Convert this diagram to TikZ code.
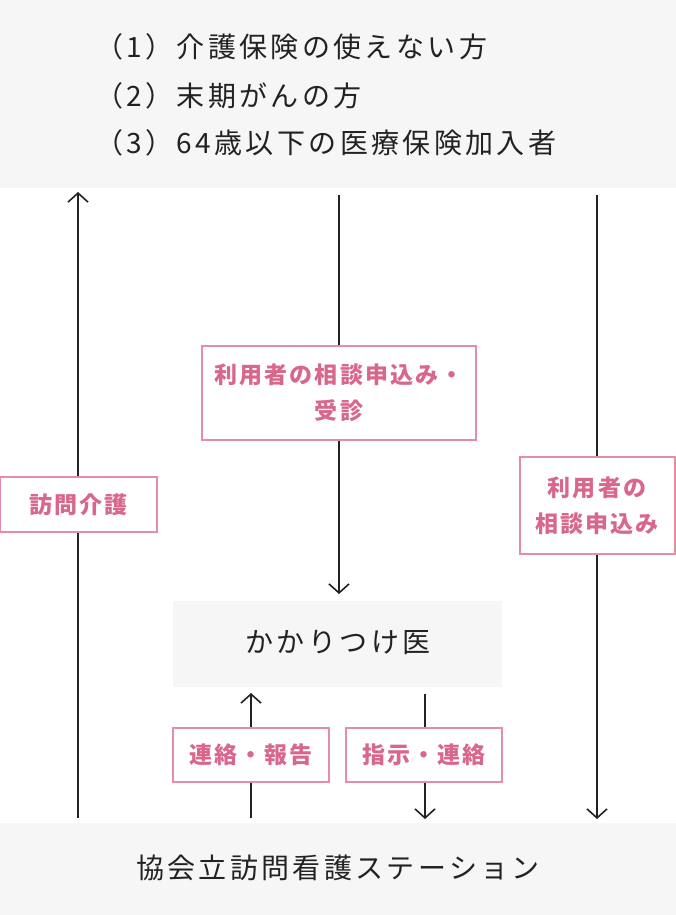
\documentclass[tikz,border=0pt]{standalone}
\usepackage{fontspec}
\setmainfont{Noto Sans CJK JP}
\usetikzlibrary{arrows.meta}
\definecolor{bandgray}{HTML}{F6F6F6}
\definecolor{pinkline}{HTML}{E88CA5}
\definecolor{pinktext}{HTML}{D8678B}
\definecolor{ink}{HTML}{222222}
\tikzset{
  x=1pt,y=-1pt,
  band/.style={fill=bandgray,draw=none},
  blacktext/.style={text=ink,font=\fontsize{28}{48}\selectfont\addfontfeature{LetterSpace=12},inner sep=0pt},
  lab/.style={draw=pinkline,line width=2pt,fill=white,text=pinktext,align=center,
    font=\fontsize{23}{36}\selectfont\bfseries\addfontfeature{LetterSpace=9},inner sep=0pt},
  flow/.style={draw=ink,line width=1.6pt,-{Straight Barb[length=9pt,width=20pt,line width=1.6pt]}},
}
\begin{document}
\begin{tikzpicture}
\useasboundingbox (0,0) rectangle (676,915);
\fill[white] (0,0) rectangle (676,915);
% top band
\fill[band] (0,0) rectangle (676,188);
\node[blacktext,anchor=west] (l1) at (95,47) {（1）介護保険の使えない方};
\node[blacktext,anchor=west] (l2) at (95,96) {（2）末期がんの方};
\node[blacktext,anchor=west] (l3) at (95,143) {（3）64歳以下の医療保険加入者};
\coordinate (topL) at (78,192);
\coordinate (topM) at (339,195);
\coordinate (topR) at (597,195);
% bottom band
\fill[band] (0,823) rectangle (676,915);
\node[blacktext] (st) at (338,868) {協会立訪問看護ステーション};
\coordinate (botL) at (78,818);
\coordinate (botR) at (597,819);
% doctor box
\node[band,minimum width=329pt,minimum height=86pt,inner sep=0pt] (doc) at (337.5,644) {};
\node[blacktext] (doct) at (338,643) {かかりつけ医};
\coordinate (docM) at (339,594);
\coordinate (docBL) at (251,693);
\coordinate (docBR) at (425,694);
\coordinate (stBL) at (251,818);
\coordinate (stBR) at (425,819);
% connectors
\draw[flow] (botL) -- (topL);
\draw[flow] (topM) -- (docM);
\draw[flow] (topR) -- (botR);
\draw[flow] (stBL) -- (docBL);
\draw[flow] (docBR) -- (stBR);
% labels
\node[lab,minimum width=274pt,minimum height=94pt] (a) at (339,393) {利用者の相談申込み・\\受診};
\node[lab,minimum width=157pt,minimum height=55pt] (b) at (78.5,504.5) {訪問介護};
\node[lab,minimum width=155pt,minimum height=97pt] (c) at (597,505.5) {利用者の\\相談申込み};
\node[lab,minimum width=156pt,minimum height=54pt] (d) at (251,755) {連絡・報告};
\node[lab,minimum width=156pt,minimum height=54pt] (e) at (424,755) {指示・連絡};
\end{tikzpicture}
\end{document}
